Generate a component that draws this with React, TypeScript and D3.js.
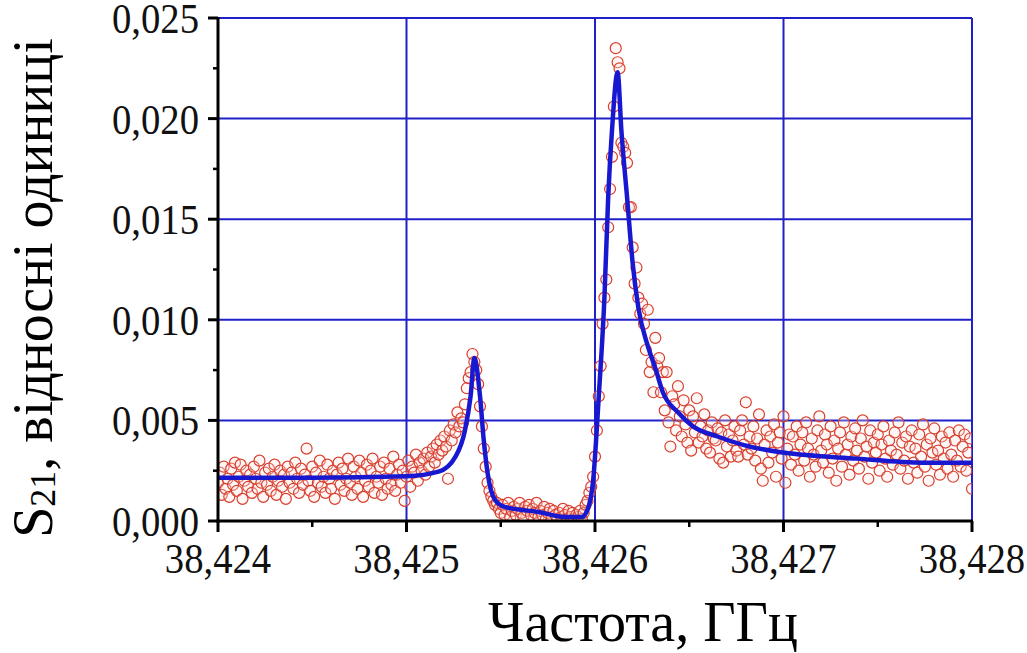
import React from "react";
import * as d3 from "d3";

// axis ticks
const xTicks = [38.424, 38.425, 38.426, 38.427, 38.428];
const xMinorTicks = [38.4245, 38.4255, 38.4265, 38.4275];
const yTicks = [0, 0.005, 0.01, 0.015, 0.02, 0.025];
const yMinorTicks = [0.0025, 0.0075, 0.0125, 0.0175, 0.0225];

// fitted curve (blue)
const fitCurve: [number, number][] = [
  [38.4240, 0.00215], [38.4245, 0.00215], [38.4250, 0.00222], [38.42517, 0.00245],
  [38.42526, 0.0032], [38.42531, 0.0045], [38.42534, 0.0062], [38.42536, 0.0081],
  [38.42539, 0.0062], [38.42541, 0.0040], [38.42543, 0.0024], [38.42547, 0.00104],
  [38.42552, 0.0007], [38.42570, 0.00045], [38.42584, 0.0002], [38.42593, 0.0002],
  [38.42596, 0.00055], [38.42599, 0.0020], [38.42602, 0.0062], [38.42605, 0.0111],
  [38.42607, 0.0161], [38.42609, 0.0194], [38.42612, 0.0223], [38.42614, 0.0194],
  [38.42617, 0.0161], [38.42620, 0.0128], [38.42623, 0.0106], [38.42628, 0.0087],
  [38.42632, 0.0076], [38.42636, 0.0064], [38.42644, 0.0054], [38.42652, 0.0047],
  [38.42665, 0.0042], [38.42682, 0.0037], [38.42700, 0.0034], [38.42739, 0.0031],
  [38.42774, 0.0029], [38.42800, 0.0029],
];

// measured S21 points (red circles)
const measured: [number, number][] = [
  [38.42400, 0.0019], [38.42401, 0.0024], [38.42402, 0.0013], [38.42403, 0.0027], [38.42404, 0.0016],
  [38.42405, 0.0021], [38.42406, 0.0012], [38.42407, 0.0026], [38.42408, 0.0018], [38.42409, 0.0029],
  [38.42410, 0.0015], [38.42411, 0.0022], [38.42412, 0.0028], [38.42413, 0.0011], [38.42414, 0.0020],
  [38.42415, 0.0025], [38.42416, 0.0017], [38.42417, 0.0023], [38.42418, 0.0014], [38.42419, 0.0027],
  [38.42420, 0.0021], [38.42421, 0.0016], [38.42422, 0.0030], [38.42423, 0.0019], [38.42424, 0.0012],
  [38.42425, 0.0024], [38.42426, 0.0018], [38.42427, 0.0026], [38.42428, 0.0015], [38.42429, 0.0022],
  [38.42430, 0.0028], [38.42431, 0.0013], [38.42432, 0.0020], [38.42433, 0.0025], [38.42434, 0.0017],
  [38.42435, 0.0023], [38.42436, 0.0011], [38.42437, 0.0027], [38.42438, 0.0019], [38.42439, 0.0024],
  [38.42440, 0.0016], [38.42441, 0.0029], [38.42442, 0.0021], [38.42443, 0.0014], [38.42444, 0.0026],
  [38.42445, 0.0018], [38.42446, 0.0023], [38.42447, 0.0036], [38.42448, 0.0020], [38.42449, 0.0015],
  [38.42450, 0.0027], [38.42451, 0.0012], [38.42452, 0.0024], [38.42453, 0.0019], [38.42454, 0.0030],
  [38.42455, 0.0017], [38.42456, 0.0022], [38.42457, 0.0014], [38.42458, 0.0028], [38.42459, 0.0021],
  [38.42460, 0.0016], [38.42461, 0.0025], [38.42462, 0.0011], [38.42463, 0.0023], [38.42464, 0.0029],
  [38.42465, 0.0018], [38.42466, 0.0026], [38.42467, 0.0015], [38.42468, 0.0021], [38.42469, 0.0031],
  [38.42470, 0.0019], [38.42471, 0.0013], [38.42472, 0.0027], [38.42473, 0.0022], [38.42474, 0.0016],
  [38.42475, 0.0030], [38.42476, 0.0024], [38.42477, 0.0012], [38.42478, 0.0020], [38.42479, 0.0028],
  [38.42480, 0.0017], [38.42481, 0.0025], [38.42482, 0.0031], [38.42483, 0.0014], [38.42484, 0.0022],
  [38.42485, 0.0019], [38.42486, 0.0027], [38.42487, 0.0013], [38.42488, 0.0029], [38.42489, 0.0021],
  [38.42490, 0.0016], [38.42491, 0.0026], [38.42492, 0.0018], [38.42493, 0.0032], [38.42494, 0.0015],
  [38.42495, 0.0023], [38.42496, 0.0028], [38.42497, 0.0019], [38.42498, 0.0025], [38.42499, 0.0010],
  [38.42500, 0.0022], [38.42501, 0.0030], [38.42502, 0.0017], [38.42503, 0.0027], [38.42504, 0.0024],
  [38.42505, 0.0033], [38.42506, 0.0020], [38.42507, 0.0029], [38.42508, 0.0025], [38.42509, 0.0031],
  [38.42510, 0.0023], [38.42511, 0.0034], [38.42512, 0.0027], [38.42513, 0.0032], [38.42514, 0.0036],
  [38.42515, 0.0029], [38.42516, 0.0038], [38.42517, 0.0033], [38.42518, 0.0040], [38.42519, 0.0035],
  [38.42520, 0.0042], [38.42521, 0.0037], [38.42522, 0.0021], [38.42523, 0.0045], [38.42524, 0.0040],
  [38.42525, 0.0048], [38.42526, 0.0044], [38.42527, 0.0054], [38.42528, 0.0047], [38.42529, 0.0051],
  [38.42530, 0.0049], [38.42531, 0.0058], [38.42532, 0.0066], [38.42533, 0.0071], [38.42534, 0.0074],
  [38.42535, 0.0083], [38.42536, 0.0079], [38.42537, 0.0075], [38.42538, 0.0068], [38.42539, 0.0057],
  [38.42540, 0.0047], [38.42541, 0.0036], [38.42542, 0.0027], [38.42543, 0.0019], [38.42544, 0.0015],
  [38.42545, 0.0012], [38.42546, 0.0010], [38.42547, 0.0008], [38.42548, 0.0009], [38.42549, 0.0006],
  [38.42550, 0.0004], [38.42551, 0.0008], [38.42552, 0.0003], [38.42553, 0.0006], [38.42554, 0.0009],
  [38.42555, 0.0002], [38.42556, 0.0005], [38.42557, 0.0007], [38.42558, 0.0003], [38.42559, 0.0006],
  [38.42560, 0.0009], [38.42561, 0.0004], [38.42562, 0.0002], [38.42563, 0.0007], [38.42564, 0.0005],
  [38.42565, 0.0008], [38.42566, 0.0003], [38.42567, 0.0006], [38.42568, 0.0004], [38.42569, 0.0009],
  [38.42570, 0.0002], [38.42571, 0.0005], [38.42572, 0.0003], [38.42573, 0.0007], [38.42574, 0.0001],
  [38.42575, 0.0004], [38.42576, 0.0006], [38.42577, 0.0002], [38.42578, 0.0005], [38.42579, 0.0003],
  [38.42580, 0.0001], [38.42581, 0.0004], [38.42582, 0.0002], [38.42583, 0.0006], [38.42584, 0.0003],
  [38.42585, 0.0001], [38.42586, 0.0005], [38.42587, 0.0002], [38.42588, 0.0004], [38.42589, 0.0001],
  [38.42590, 0.0003], [38.42591, 0.0002], [38.42592, 0.0005], [38.42593, 0.0001], [38.42594, 0.0004],
  [38.42595, 0.0008], [38.42596, 0.0010], [38.42597, 0.0014], [38.42598, 0.0017], [38.42599, 0.0022],
  [38.42600, 0.0032], [38.42601, 0.0045], [38.42602, 0.0062], [38.42603, 0.0077], [38.42604, 0.0098],
  [38.42605, 0.0111], [38.42606, 0.0120], [38.42607, 0.0146], [38.42608, 0.0165], [38.42609, 0.0181],
  [38.42610, 0.0206], [38.42611, 0.0235], [38.42612, 0.0228], [38.42613, 0.0225], [38.42614, 0.0188],
  [38.42615, 0.0186], [38.42616, 0.0183], [38.42617, 0.0178], [38.42618, 0.0156], [38.42619, 0.0156],
  [38.42620, 0.0136], [38.42621, 0.0118], [38.42622, 0.0126], [38.42623, 0.0111], [38.42624, 0.0103],
  [38.42625, 0.0108], [38.42626, 0.0098], [38.42627, 0.0085], [38.42628, 0.0105], [38.42629, 0.0074],
  [38.42630, 0.0079], [38.42631, 0.0064], [38.42632, 0.0091], [38.42633, 0.0077], [38.42634, 0.0081],
  [38.42635, 0.0064], [38.42636, 0.0074], [38.42637, 0.0055], [38.42638, 0.0074], [38.42639, 0.0049],
  [38.42640, 0.0037], [38.42641, 0.0062], [38.42642, 0.0058], [38.42643, 0.0045], [38.42644, 0.0067],
  [38.42645, 0.0052], [38.42646, 0.0042], [38.42647, 0.0060], [38.42648, 0.0048], [38.42649, 0.0039],
  [38.42650, 0.0055], [38.42651, 0.0035], [38.42652, 0.0052], [38.42653, 0.0044], [38.42654, 0.0061],
  [38.42655, 0.0039], [38.42656, 0.0047], [38.42657, 0.0042], [38.42658, 0.0053], [38.42659, 0.0036],
  [38.42660, 0.0045], [38.42661, 0.0034], [38.42662, 0.0049], [38.42663, 0.0041], [38.42664, 0.0040],
  [38.42665, 0.0046], [38.42666, 0.0031], [38.42667, 0.0044], [38.42668, 0.0029], [38.42669, 0.0050],
  [38.42670, 0.0037], [38.42671, 0.0043], [38.42672, 0.0032], [38.42673, 0.0040], [38.42674, 0.0047],
  [38.42675, 0.0035], [38.42676, 0.0032], [38.42677, 0.0045], [38.42678, 0.0050], [38.42679, 0.0038],
  [38.42680, 0.0059], [38.42681, 0.0033], [38.42682, 0.0042], [38.42683, 0.0036], [38.42684, 0.0047],
  [38.42685, 0.0030], [38.42686, 0.0041], [38.42687, 0.0053], [38.42688, 0.0026], [38.42689, 0.0020],
  [38.42690, 0.0038], [38.42691, 0.0045], [38.42692, 0.0029], [38.42693, 0.0042], [38.42694, 0.0034],
  [38.42695, 0.0048], [38.42696, 0.0022], [38.42697, 0.0039], [38.42698, 0.0044], [38.42699, 0.0031],
  [38.42700, 0.0052], [38.42701, 0.0019], [38.42702, 0.0036], [38.42703, 0.0043], [38.42704, 0.0028],
  [38.42705, 0.0042], [38.42706, 0.0033], [38.42707, 0.0047], [38.42708, 0.0025], [38.42709, 0.0038],
  [38.42710, 0.0044], [38.42711, 0.0030], [38.42712, 0.0049], [38.42713, 0.0036], [38.42714, 0.0022],
  [38.42715, 0.0041], [38.42716, 0.0033], [38.42717, 0.0027], [38.42718, 0.0045], [38.42719, 0.0052],
  [38.42720, 0.0035], [38.42721, 0.0029], [38.42722, 0.0043], [38.42723, 0.0038], [38.42724, 0.0024],
  [38.42725, 0.0047], [38.42726, 0.0031], [38.42727, 0.0040], [38.42728, 0.0020], [38.42729, 0.0036],
  [38.42730, 0.0044], [38.42731, 0.0027], [38.42732, 0.0049], [38.42733, 0.0033], [38.42734, 0.0038],
  [38.42735, 0.0023], [38.42736, 0.0042], [38.42737, 0.0030], [38.42738, 0.0046], [38.42739, 0.0035],
  [38.42740, 0.0026], [38.42741, 0.0041], [38.42742, 0.0050], [38.42743, 0.0032], [38.42744, 0.0037],
  [38.42745, 0.0021], [38.42746, 0.0045], [38.42747, 0.0029], [38.42748, 0.0039], [38.42749, 0.0034],
  [38.42750, 0.0043], [38.42751, 0.0025], [38.42752, 0.0038], [38.42753, 0.0047], [38.42754, 0.0031],
  [38.42755, 0.0022], [38.42756, 0.0040], [38.42757, 0.0035], [38.42758, 0.0028], [38.42759, 0.0044],
  [38.42760, 0.0033], [38.42761, 0.0049], [38.42762, 0.0026], [38.42763, 0.0039], [38.42764, 0.0030],
  [38.42765, 0.0042], [38.42766, 0.0021], [38.42767, 0.0037], [38.42768, 0.0045], [38.42769, 0.0029],
  [38.42770, 0.0036], [38.42771, 0.0024], [38.42772, 0.0043], [38.42773, 0.0032], [38.42774, 0.0048],
  [38.42775, 0.0027], [38.42776, 0.0038], [38.42777, 0.0020], [38.42778, 0.0041], [38.42779, 0.0034],
  [38.42780, 0.0046], [38.42781, 0.0028], [38.42782, 0.0035], [38.42783, 0.0023], [38.42784, 0.0042],
  [38.42785, 0.0031], [38.42786, 0.0039], [38.42787, 0.0026], [38.42788, 0.0044], [38.42789, 0.0033],
  [38.42790, 0.0022], [38.42791, 0.0040], [38.42792, 0.0030], [38.42793, 0.0045], [38.42794, 0.0027],
  [38.42795, 0.0037], [38.42796, 0.0043], [38.42797, 0.0025], [38.42798, 0.0034], [38.42799, 0.0041],
  [38.42800, 0.0016],
];

const W = 1027;
const H = 653;
const plot = { left: 218, right: 972, top: 18, bottom: 521 };

const gridColor = "#2020c8";
const curveColor = "#1818d0";
const pointColor = "#d8402e";
const font = '"Liberation Serif", Tinos, "Times New Roman", "DejaVu Serif", serif';

const fmt = (v: number) => d3.format(".3f")(v).replace(".", ",");

export default function App() {
  const x = d3.scaleLinear().domain([38.424, 38.428]).range([plot.left, plot.right]);
  const y = d3.scaleLinear().domain([0, 0.025]).range([plot.bottom, plot.top]);

  const linePath = d3
    .line<[number, number]>()
    .x((d) => x(d[0]))
    .y((d) => y(d[1]))
    .curve(d3.curveMonotoneX)(fitCurve);

  const textStyle = { fontFamily: font };

  return (
    <svg
      width={W}
      height={H}
      style={{ position: "absolute", left: 0, top: 0, background: "#fff" }}
    >
      <defs>
        <clipPath id="plot-clip">
          <rect x={plot.left} y={plot.top} width={plot.right - plot.left} height={plot.bottom - plot.top} />
        </clipPath>
      </defs>

      {/* grid */}
      {xTicks.map((t) => (
        <line key={"gx" + t} x1={x(t)} x2={x(t)} y1={plot.top} y2={plot.bottom} stroke={gridColor} strokeWidth={2} />
      ))}
      {yTicks.map((t) => (
        <line key={"gy" + t} x1={plot.left} x2={plot.right} y1={y(t)} y2={y(t)} stroke={gridColor} strokeWidth={2} />
      ))}

      {/* measured points + fit */}
      <g clipPath="url(#plot-clip)">
        {measured.map((d, i) => (
          <circle
            key={i}
            cx={x(d[0])}
            cy={y(d[1])}
            r={5.5}
            fill="rgba(255,225,225,0.3)"
            stroke={pointColor}
            strokeWidth={1.2}
          />
        ))}
        <path d={linePath ?? ""} fill="none" stroke={curveColor} strokeWidth={4.5} strokeLinejoin="round" />
      </g>

      {/* axes */}
      <line x1={plot.left} x2={plot.left} y1={plot.top - 1} y2={plot.bottom + 1.5} stroke="#000" strokeWidth={3} />
      <line x1={plot.left - 1.5} x2={plot.right + 1} y1={plot.bottom} y2={plot.bottom} stroke="#000" strokeWidth={3} />
      {yTicks.map((t) => (
        <line key={"ty" + t} x1={plot.left - 10} x2={plot.left} y1={y(t)} y2={y(t)} stroke="#000" strokeWidth={3} />
      ))}
      {yMinorTicks.map((t) => (
        <line key={"tym" + t} x1={plot.left - 5} x2={plot.left} y1={y(t)} y2={y(t)} stroke="#000" strokeWidth={2.5} />
      ))}
      {xTicks.map((t) => (
        <line key={"tx" + t} x1={x(t)} x2={x(t)} y1={plot.bottom} y2={plot.bottom + 11} stroke="#000" strokeWidth={3} />
      ))}
      {xMinorTicks.map((t) => (
        <line key={"txm" + t} x1={x(t)} x2={x(t)} y1={plot.bottom} y2={plot.bottom + 6} stroke="#000" strokeWidth={2.5} />
      ))}

      {/* tick labels (slightly condensed, as in the source figure) */}
      {yTicks.map((t) => (
        <text
          key={"ly" + t}
          transform={`translate(199,${y(t) + 15}) scale(0.9,1)`}
          textAnchor="end"
          fontSize={43}
          fill="#111"
          style={textStyle}
        >
          {fmt(t)}
        </text>
      ))}
      {xTicks.map((t) => (
        <text
          key={"lx" + t}
          transform={`translate(${x(t)},573) scale(0.9,1)`}
          textAnchor="middle"
          fontSize={43}
          fill="#111"
          style={textStyle}
        >
          {fmt(t)}
        </text>
      ))}

      {/* axis titles */}
      <text x={643} y={641} textAnchor="middle" fontSize={56} fill="#000" style={textStyle}>
        Частота, ГГц
      </text>
      <text transform="translate(52,288) rotate(-90)" textAnchor="middle" fontSize={56} fill="#000" style={textStyle}>
        S
        <tspan fontSize={36} dy={3}>21</tspan>
        <tspan dy={-3}>, відносні одиниці</tspan>
      </text>
    </svg>
  );
}
